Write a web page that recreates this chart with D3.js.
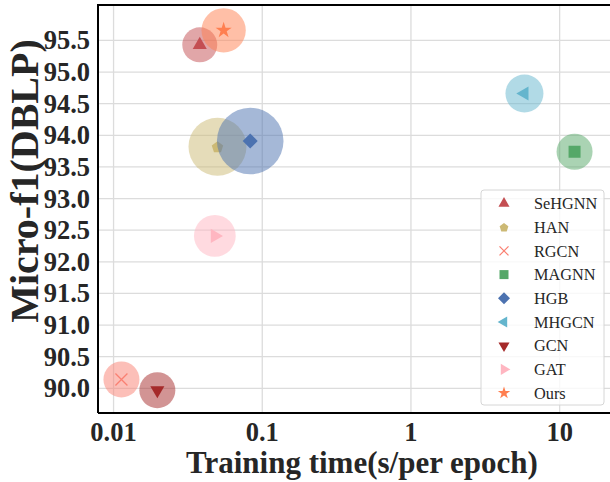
<!DOCTYPE html>
<html>
<head>
<meta charset="utf-8">
<script src="https://cdn.jsdelivr.net/npm/d3@7"></script>
<style>
  html, body { margin: 0; padding: 0; background: #fff; }
  svg { display: block; font-family: "Liberation Serif", "Times New Roman", serif; }
</style>
</head>
<body>
<svg id="chart" width="610" height="482"></svg>
<script>
// data
const methods = ["SeHGNN", "HAN", "RGCN", "MAGNN", "HGB", "MHGCN", "GCN", "GAT", "Ours"];
const trainTime = [0.038, 0.050, 0.0113, 12.6, 0.083, 5.8, 0.0197, 0.048, 0.055];
const microF1 = [95.43, 93.82, 90.14, 93.74, 93.91, 94.66, 89.97, 92.41, 95.66];
const memory = [306, 841, 324, 324, 1109, 361, 324, 436, 490];
const markers = ["triUp", "pentagon", "x", "square", "diamond", "triLeft", "triDown", "triRight", "star"];
const colors = ["#c44e52", "#ccb974", "#fa8072", "#55a868", "#4c72b0", "#64b5cd", "#a52a2a", "#ffb6c1", "#ff7f50"];
const xTicks = [0.01, 0.1, 1, 10];
const xTickLabels = ["0.01", "0.1", "1", "10"];
const yTicks = [90, 90.5, 91, 91.5, 92, 92.5, 93, 93.5, 94, 94.5, 95, 95.5];

const margin = { left: 98, top: 5, right: 612, bottom: 413 };
const svg = d3.select("#chart");

const x = d3.scaleLog().domain([0.00786, 22.5]).range([margin.left, margin.right]);
const y = d3.scaleLinear().domain([89.61, 96.06]).range([margin.bottom, margin.top]);
const r = d3.scaleSqrt().domain([0, 1109]).range([0, 33.3]);

// grid
const grid = svg.append("g").attr("stroke", "#dcdcdc").attr("stroke-width", 1.3);
grid.selectAll(".gy").data(yTicks).enter().append("line")
  .attr("x1", margin.left).attr("x2", margin.right)
  .attr("y1", d => y(d)).attr("y2", d => y(d));
grid.selectAll(".gx").data(xTicks).enter().append("line")
  .attr("y1", margin.top).attr("y2", margin.bottom)
  .attr("x1", d => x(d)).attr("x2", d => x(d));

// marker shapes
function markerPath(type, s) {
  if (type === "pentagon") {
    const pts = d3.range(5).map(i => {
      const a = -Math.PI / 2 + i * 2 * Math.PI / 5;
      return [s * Math.cos(a), s * Math.sin(a) + s * 0.1];
    });
    return "M" + pts.join("L") + "Z";
  }
  if (type === "x") {
    return `M${-s},${-s}L${s},${s}M${-s},${s}L${s},${-s}`;
  }
  if (type === "square") return d3.symbol(d3.symbolSquare, 4 * s * s)();
  if (type === "diamond") return d3.symbol(d3.symbolSquare, 2 * s * s)();
  if (type === "star") return d3.symbol(d3.symbolStar, 1.9 * s * s)();
  return d3.symbol(d3.symbolTriangle, 1.75 * s * s)();
}
function markerRotate(type) {
  return { triLeft: -90, triDown: 180, triRight: 90, diamond: 45 }[type] || 0;
}
function drawMarker(g, type, color, s) {
  const p = g.append("path").attr("d", markerPath(type, s))
    .attr("transform", `rotate(${markerRotate(type)})`);
  if (type === "x") p.attr("fill", "none").attr("stroke", color).attr("stroke-width", 1.3);
  else p.attr("fill", color);
}

const plotSize = { triUp: 7, triDown: 7, triLeft: 7, triRight: 7, pentagon: 6, x: 6, square: 6, diamond: 7.5, star: 6.5 };
const legendSize = { triUp: 5.5, triDown: 5.5, triLeft: 5.5, triRight: 5.5, pentagon: 4.6, x: 4.5, square: 4.5, diamond: 6, star: 5 };

// bubbles and markers
methods.forEach((m, i) => {
  const g = svg.append("g").attr("transform", `translate(${x(trainTime[i])},${y(microF1[i])})`);
  g.append("circle").attr("r", r(memory[i])).attr("fill", colors[i]).attr("fill-opacity", 0.5);
  drawMarker(g, markers[i], colors[i], plotSize[markers[i]]);
});

// frame
svg.append("path")
  .attr("d", `M${margin.left},${margin.bottom}V${margin.top}H${margin.right}`)
  .attr("fill", "none").attr("stroke", "#000").attr("stroke-width", 2);
svg.append("line")
  .attr("x1", margin.left).attr("x2", margin.right)
  .attr("y1", margin.bottom).attr("y2", margin.bottom)
  .attr("stroke", "#000").attr("stroke-width", 2);

// tick labels
svg.selectAll(".yt").data(yTicks).enter().append("text")
  .attr("x", 90).attr("y", d => y(d)).attr("dy", "0.34em")
  .attr("text-anchor", "end").attr("font-size", 26.5).attr("font-weight", "bold").attr("fill", "#262626")
  .text(d => d.toFixed(1));
svg.selectAll(".xt").data(xTicks).enter().append("text")
  .attr("x", d => x(d)).attr("y", 441)
  .attr("text-anchor", "middle").attr("font-size", 26.5).attr("font-weight", "bold").attr("fill", "#262626")
  .text((d, i) => xTickLabels[i]);

// axis titles
svg.append("text").attr("x", 362).attr("y", 473)
  .attr("text-anchor", "middle").attr("font-size", 31).attr("font-weight", "bold").attr("fill", "#262626")
  .text("Training time(s/per epoch)");
svg.append("text").attr("transform", "translate(38,181) rotate(-90)")
  .attr("text-anchor", "middle").attr("font-size", 40).attr("font-weight", "bold").attr("fill", "#262626")
  .text("Micro-f1(DBLP)");

// legend
const legend = svg.append("g");
legend.append("rect").attr("x", 481).attr("y", 190).attr("width", 123).attr("height", 215)
  .attr("rx", 3).attr("fill", "#fff").attr("fill-opacity", 0.8).attr("stroke", "#d6d6d6");
methods.forEach((m, i) => {
  const ly = 203.5 + i * 23.7;
  const g = legend.append("g").attr("transform", `translate(504,${ly})`);
  drawMarker(g, markers[i], colors[i], legendSize[markers[i]]);
  legend.append("text").attr("x", 534).attr("y", ly).attr("dy", "0.35em")
    .attr("font-size", 16.3).attr("fill", "#262626").text(m);
});
</script>
</body>
</html>
